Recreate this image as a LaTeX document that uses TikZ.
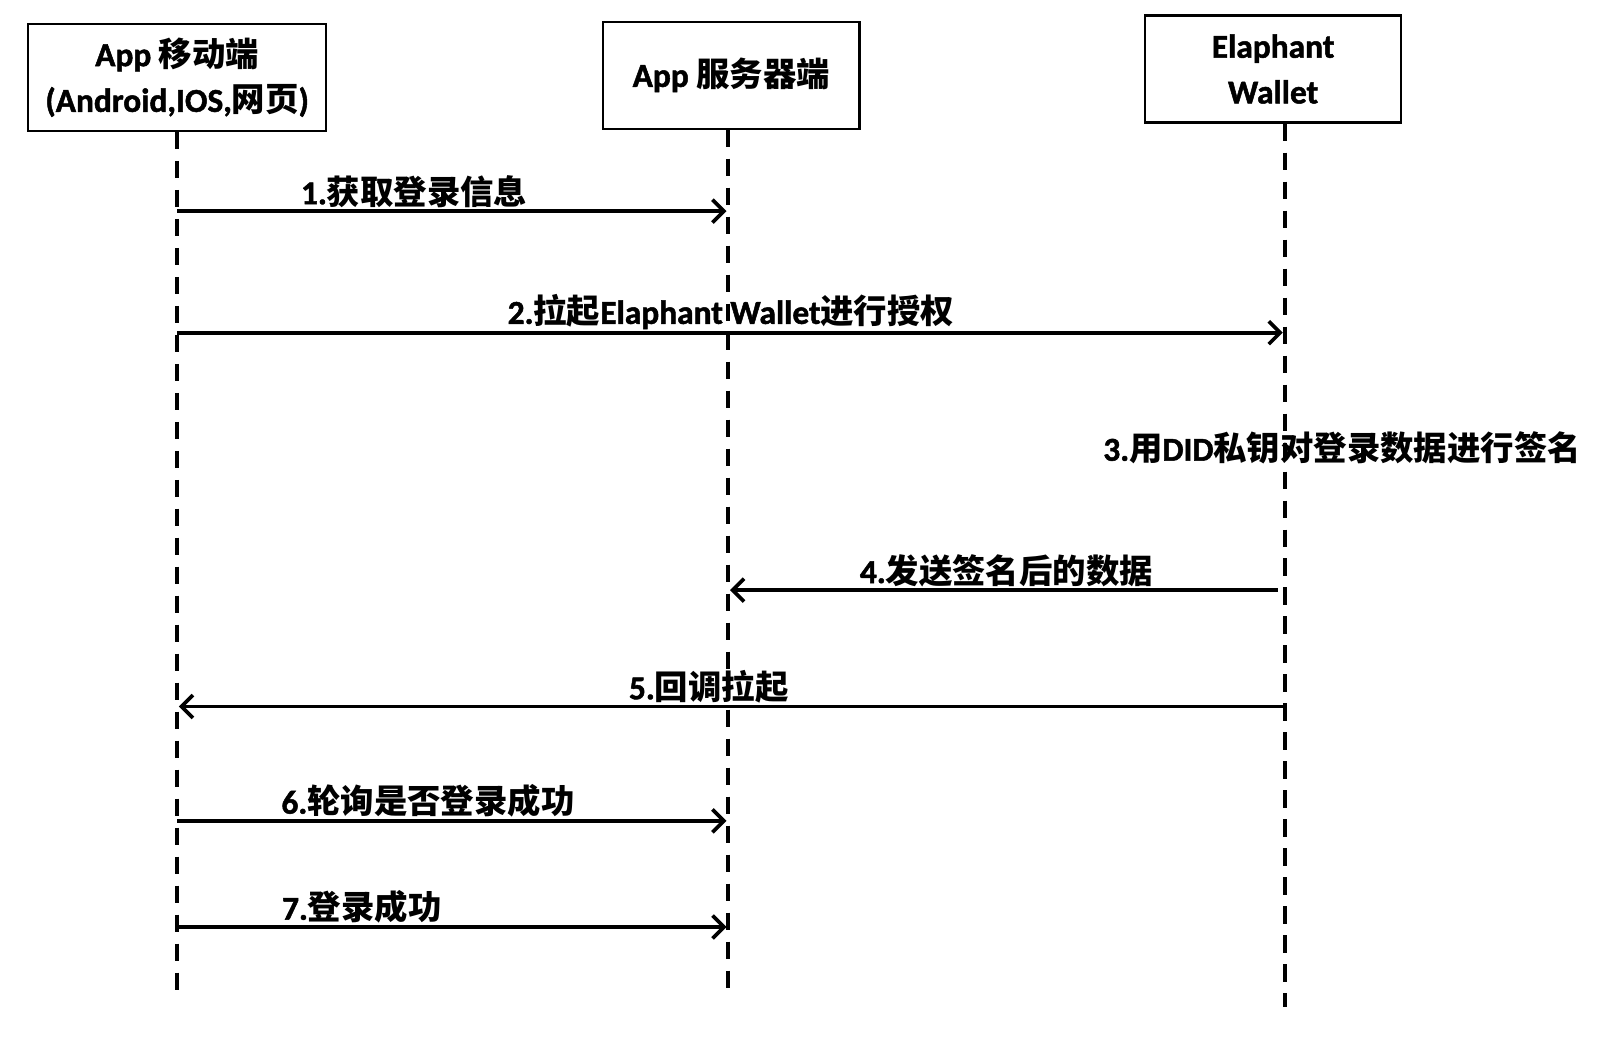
\documentclass[tikz,border=0pt]{standalone}
\usepackage{fontspec}
\setmainfont{Carlito}[BoldFeatures={FakeBold=1.5}]
\newfontfamily\cjkfont{Noto Sans CJK SC}
\newcommand{\zh}[1]{{\cjkfont #1}}
\usetikzlibrary{arrows.meta, positioning}
\tikzset{
  actor/.style={draw, line width=1.2pt, minimum height=2.14cm, align=center,
    font=\bfseries\fontsize{19}{26}\selectfont},
  lifeline/.style={dash pattern=on 10pt off 6.5pt, line width=2.3pt},
  msg/.style={-{Straight Barb[length=6.5pt,width=13pt]}, line width=2.1pt, shorten >=1pt},
  lbl/.style={font=\bfseries\fontsize{19}{23}\selectfont, inner sep=1pt}
}

\begin{document}
\begin{tikzpicture}[x=0.0206cm, y=-0.0206cm]
\useasboundingbox (0,0) rectangle (1568,1017.5);
% participants
\node[actor, minimum width=5.97cm] (mob) at (172,75) {App \zh{移动端}\\(Android,IOS,\zh{网页})};
\node[actor, minimum width=5.13cm] (srv) at (710,73) {App \zh{服务器端}};
\node[actor, minimum width=5.13cm] (wal) at (1236,67) {Elaphant\\Wallet};
% lifelines
\coordinate (mobL) at (mob.south);
\coordinate (srvL) at ([xshift=-0.06cm]srv.south);
\coordinate (walL) at ([xshift=0.23cm]wal.south);
\coordinate (mobE) at (mobL |- 0,963);
\coordinate (srvE) at (srvL |- 0,962);
\coordinate (walE) at (walL |- 0,978);
\draw[lifeline] (mobL) -- (mobE);
\draw[lifeline] (srvL) -- (srvE);
\draw[lifeline] (walL) -- (walE);
% messages
\draw[msg] (mobL |- 0,205) -- node[lbl, above, pos=.43] {1.\zh{获取登录信息}} (srvL |- 0,205);
\draw[msg] (mobL |- 0,323) -- node[lbl, above] {2.\zh{拉起}Elaphant Wallet\zh{进行授权}} (walL |- 0,323);
\node[lbl] (sign) at (1303,435) {3.\zh{用}DID\zh{私钥对登录数据进行签名}};
\draw[msg, shorten <=0.14cm] (walL |- 0,573) -- node[lbl, above] {4.\zh{发送签名后的数据}} (srvL |- 0,573);
\draw[msg] (walL |- 0,686) -- node[lbl, above, pos=.52] {5.\zh{回调拉起}} (mobL |- 0,686);
\draw[msg] (mobL |- 0,797) -- node[lbl, above, pos=.455] {6.\zh{轮询是否登录成功}} (srvL |- 0,797);
\draw[msg] (mobL |- 0,900) -- node[lbl, above, pos=.335] {7.\zh{登录成功}} (srvL |- 0,900);
\end{tikzpicture}
\end{document}
